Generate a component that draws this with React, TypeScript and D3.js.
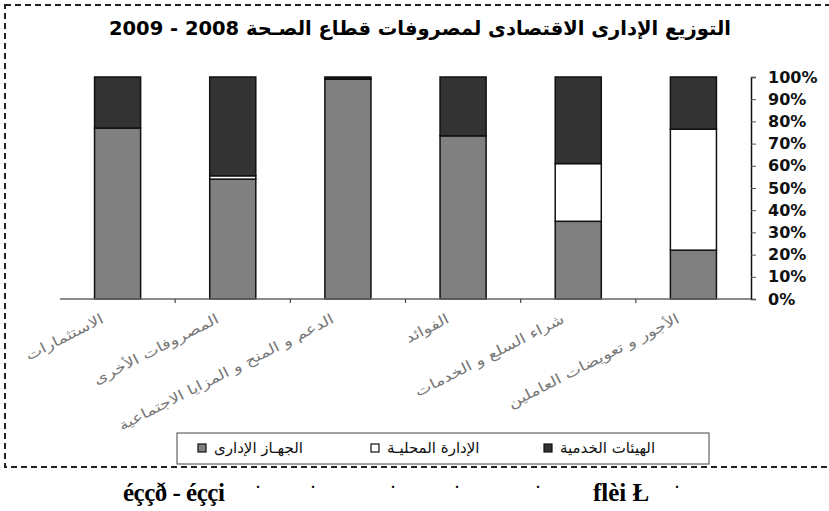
import * as d3 from 'd3'
import { useEffect, useRef } from 'react'

const categories = [
  'الأجور و تعويضات العاملين',
  'شراء السلع و الخدمات',
  'الفوائد',
  'الدعم و المنح و المزايا الاجتماعية',
  'المصروفات الأخرى',
  'الاستثمارات',
]
const seriesNames = ['الجهـاز الإدارى', 'الإدارة المحليـة', 'الهيئات الخدمية']
const jihaz = [22, 35, 73.5, 99, 54, 77]
const idara = [54.5, 26, 0, 0.3, 1.5, 0]
const hayaat = [23.5, 39, 26.5, 0.7, 44.5, 23]
const yTicks = [0, 0.1, 0.2, 0.3, 0.4, 0.5, 0.6, 0.7, 0.8, 0.9, 1]
const colors = ['#808080', '#ffffff', '#333333']
const titleText = 'التوزيع الإدارى الاقتصادى لمصروفات قطاع الصـحة 2008 - 2009'

const W = 829
const H = 511

const App = () => {
  const ref = useRef<SVGSVGElement>(null)

  useEffect(() => {
    const svg = d3.select(ref.current)
    svg.selectAll('*').remove()
    svg.attr('width', W).attr('height', H)

    const left = 60
    const right = 751
    const top = 77
    const bottom = 299

    // dashed frame
    svg
      .append('rect')
      .attr('x', 5)
      .attr('y', 5)
      .attr('width', 840)
      .attr('height', 462)
      .attr('fill', 'none')
      .attr('stroke', '#222')
      .attr('stroke-width', 2)
      .attr('stroke-dasharray', '6,4')

    svg
      .append('text')
      .attr('x', 420)
      .attr('y', 35)
      .attr('text-anchor', 'middle')
      .attr('font-family', 'DejaVu Sans')
      .attr('font-weight', 'bold')
      .attr('font-size', 19.5)
      .attr('direction', 'rtl')
      .text(titleText)

    const x = d3.scaleBand().domain(categories).range([right, left]).padding(0)
    const y = d3.scaleLinear().domain([0, 1]).range([bottom, top])
    const bw = x.bandwidth() * 0.4

    const rows = categories.map((c, i) => {
      const tot = jihaz[i] + idara[i] + hayaat[i]
      return { cat: c, a: jihaz[i] / tot, b: idara[i] / tot, c: hayaat[i] / tot }
    })
    const stack = d3.stack<any>().keys(['a', 'b', 'c'])(rows)

    stack.forEach((layer, li) => {
      svg
        .append('g')
        .selectAll('rect')
        .data(layer)
        .enter()
        .append('rect')
        .attr('x', (d: any) => x(d.data.cat)! + x.bandwidth() / 2 - bw / 2)
        .attr('y', (d) => y(d[1]))
        .attr('width', bw)
        .attr('height', (d) => Math.max(0, y(d[0]) - y(d[1])))
        .attr('fill', colors[li])
        .attr('stroke', '#111')
        .attr('stroke-width', 1.5)
    })

    // x axis
    const xa = svg.append('g').attr('transform', `translate(0,${bottom})`)
    xa.append('line')
      .attr('x1', left)
      .attr('x2', right)
      .attr('stroke', '#666')
      .attr('stroke-width', 1.5)
    xa.selectAll('.tk')
      .data(categories.slice(1))
      .enter()
      .append('line')
      .attr('x1', (d) => x(d)! + x.bandwidth())
      .attr('x2', (d) => x(d)! + x.bandwidth())
      .attr('y1', 0)
      .attr('y2', 4)
      .attr('stroke', '#444')
      .attr('stroke-width', 1.2)

    xa.selectAll('.lbl')
      .data(categories)
      .enter()
      .append('text')
      .attr(
        'transform',
        (d) =>
          `translate(${x(d)! + x.bandwidth() / 2 - 13},23) rotate(-27) scale(1.25,1)`
      )
      .attr('text-anchor', 'start')
      .attr('direction', 'rtl')
      .attr('font-family', 'DejaVu Sans')
      .attr('font-size', 14)
      .attr('fill', '#777')
      .text((d) => d)

    // y axis on the right
    const ya = svg
      .append('g')
      .attr('transform', `translate(${right},0)`)
      .call(
        d3
          .axisRight(y)
          .tickValues(yTicks)
          .tickSize(5)
          .tickPadding(12)
          .tickFormat(d3.format('.0%'))
      )
    ya.select('.domain').attr('stroke', '#111').attr('stroke-width', 1.5)
    ya.selectAll('.tick line').attr('stroke', '#555')
    ya.selectAll('.tick text')
      .attr('font-family', 'DejaVu Sans')
      .attr('font-weight', 'bold')
      .attr('font-size', 16)
      .attr('fill', '#111')

    // legend
    const lg = svg.append('g')
    lg.append('rect')
      .attr('x', 177)
      .attr('y', 433)
      .attr('width', 532)
      .attr('height', 31)
      .attr('fill', '#fff')
      .attr('stroke', '#444')
      .attr('stroke-width', 1)
    const lx = d3.scalePoint<number>().domain([0, 1, 2]).range([202, 548])
    const items = lg
      .selectAll('.it')
      .data(seriesNames)
      .enter()
      .append('g')
      .attr('transform', (_d, i) => `translate(${lx(i)},448)`)
    items
      .append('rect')
      .attr('x', -4)
      .attr('y', -4)
      .attr('width', 8)
      .attr('height', 8)
      .attr('fill', (_d, i) => colors[i])
      .attr('stroke', '#111')
      .attr('stroke-width', 1.2)
    items
      .append('text')
      .attr('x', 12)
      .attr('y', 5)
      .attr('font-family', 'DejaVu Sans')
      .attr('font-size', 15)
      .attr('fill', '#111')
      .text((d) => d)

    // stray text under the frame
    svg
      .append('text')
      .attr('x', 123)
      .attr('y', 501)
      .attr('font-family', 'Liberation Serif')
      .attr('font-weight', 'bold')
      .attr('font-size', 25)
      .attr('letter-spacing', -0.5)
      .text('éççð - éççi')
    svg
      .append('text')
      .attr('x', 593)
      .attr('y', 501)
      .attr('font-family', 'Liberation Serif')
      .attr('font-weight', 'bold')
      .attr('font-size', 25)
      .text('flèi Ł')
    const dots = [258, 313, 393, 457, 538, 677]
    svg
      .selectAll('.dot')
      .data(dots)
      .enter()
      .append('text')
      .attr('x', (d) => d)
      .attr('y', 488)
      .attr('text-anchor', 'middle')
      .attr('font-family', 'Liberation Serif')
      .attr('font-weight', 'bold')
      .attr('font-size', 14)
      .text('.')
  }, [])

  return (
    <div style={{ position: 'absolute', left: 0, top: 0 }}>
      <svg ref={ref}></svg>
    </div>
  )
}

export default App
